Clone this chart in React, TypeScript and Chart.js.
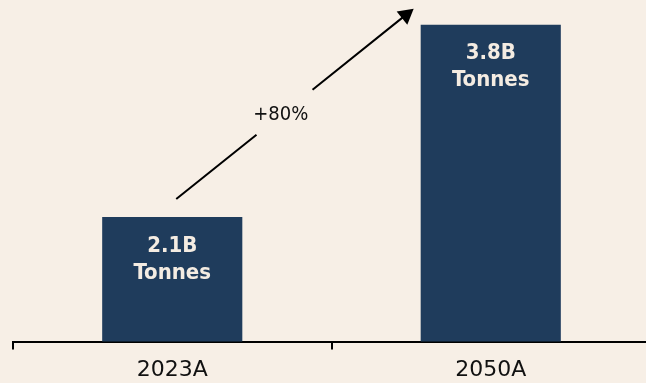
import React, { useEffect, useRef } from "react";
import { Chart, registerables } from "chart.js";

Chart.register(...registerables);

const categories = ["2023A", "2050A"];
const volumes = [2.1, 3.8];
const valueLabels = ["2.1B", "3.8B"];
const unitLabel = "Tonnes";
const growthLabel = "+80%";

const BG = "#f7efe6";
const BAR = "#1f3c5c";
const TEXT_LIGHT = "#f4ece2";

const overlayPlugin = {
  id: "overlay",
  afterDatasetsDraw(chart: any) {
    const ctx = chart.ctx as CanvasRenderingContext2D;
    const meta = chart.getDatasetMeta(0);
    const bars = meta.data as any[];
    ctx.save();
    // labels inside bars
    ctx.fillStyle = TEXT_LIGHT;
    ctx.textAlign = "center";
    ctx.textBaseline = "middle";
    ctx.font = "bold 22px 'DejaVu Sans Condensed', 'DejaVu Sans'";
    bars.forEach((b, i) => {
      ctx.fillText(valueLabels[i], b.x, b.y + 29);
      ctx.fillText(unitLabel, b.x, b.y + 56);
    });

    // growth arrow
    const b0 = bars[0];
    const b1 = bars[1];
    const sx = b0.x + 4;
    const sy = b0.y - 18;
    const ex = b1.x - b1.width / 2 - 7;
    const ey = b1.y - 16;
    const dx = ex - sx;
    const dy = ey - sy;
    const len = Math.hypot(dx, dy);
    const ux = dx / len;
    const uy = dy / len;
    const headLen = 15;
    const headHalf = 8.5;
    const g0 = 0.338;
    const g1 = 0.574;
    ctx.strokeStyle = "#000";
    ctx.lineWidth = 2;
    ctx.beginPath();
    ctx.moveTo(sx, sy);
    ctx.lineTo(sx + dx * g0, sy + dy * g0);
    ctx.moveTo(sx + dx * g1, sy + dy * g1);
    ctx.lineTo(ex - ux * headLen * 0.8, ey - uy * headLen * 0.8);
    ctx.stroke();
    const bx = ex - ux * headLen;
    const by = ey - uy * headLen;
    ctx.fillStyle = "#000";
    ctx.beginPath();
    ctx.moveTo(ex, ey);
    ctx.lineTo(bx - uy * headHalf, by + ux * headHalf);
    ctx.lineTo(bx + uy * headHalf, by - ux * headHalf);
    ctx.closePath();
    ctx.fill();

    // growth label
    const t = 0.44;
    ctx.fillStyle = "#111";
    ctx.font = "20px 'DejaVu Sans Condensed', 'DejaVu Sans'";
    ctx.textAlign = "center";
    ctx.textBaseline = "middle";
    ctx.fillText(growthLabel, sx + dx * t, sy + dy * t);
    ctx.restore();
  },
};

export default function App() {
  const ref = useRef<HTMLCanvasElement | null>(null);
  useEffect(() => {
    if (!ref.current) return;
    const chart = new Chart(ref.current, {
      type: "bar",
      data: {
        labels: categories,
        datasets: [
          {
            data: volumes,
            backgroundColor: BAR,
            barPercentage: 0.44,
            categoryPercentage: 1,
            borderWidth: 0,
          },
        ],
      },
      options: {
        animation: false,
        responsive: false,
        devicePixelRatio: 1,
        layout: { padding: { left: 13, right: 0, top: 2, bottom: 0 } },
        plugins: {
          legend: { display: false },
          tooltip: { enabled: false },
        },
        scales: {
          x: {
            grid: {
              display: true,
              drawOnChartArea: false,
              drawTicks: true,
              tickLength: 8,
              color: "#000",
              lineWidth: 2,
              offset: true,
            },
            border: { display: true, color: "#000", width: 2 },
            ticks: {
              color: "#111",
              padding: 7,
              font: { family: "'DejaVu Sans'", size: 22 },
            },
          },
          y: { display: false, min: 1, max: 4 },
        },
      },
      plugins: [overlayPlugin],
    });
    return () => chart.destroy();
  }, []);
  return (
    <div
      style={{
        position: "fixed",
        left: 0,
        top: 0,
        width: 646,
        height: 383,
        overflow: "hidden",
        background: BG,
      }}
    >
      <canvas ref={ref} width={650} height={390} style={{ display: "block" }} />
    </div>
  );
}
